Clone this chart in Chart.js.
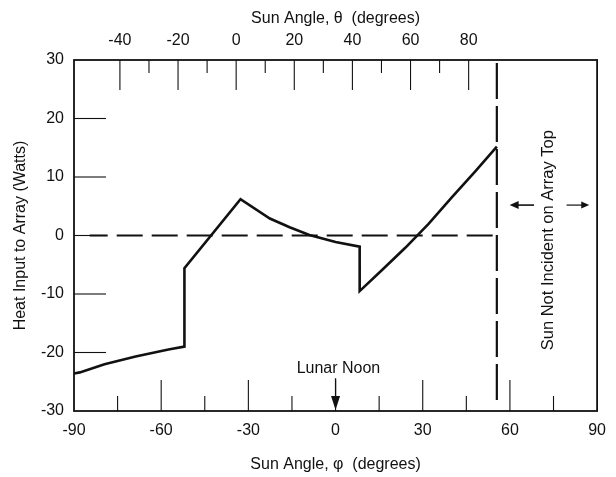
<!DOCTYPE html>
<html>
<head>
<meta charset="utf-8">
<script src="https://cdn.jsdelivr.net/npm/chart.js@4.4.1/dist/chart.umd.min.js"></script>
<style>
html,body{margin:0;padding:0;background:#fff;}
#wrap{width:616px;height:477px;}
</style>
</head>
<body>
<div id="wrap"><canvas id="c" width="616" height="477"></canvas></div>
<script>
// ---- data ----
const phiCurve  = [-90, -88, -79.5, -68.8, -57.5, -52.0, -52.0, -32.7, -22.6, -15.8, -9.0, 0.0, 8.3, 8.3, 16, 24, 32, 40, 48, 55.5];
const heatCurve = [-23.6, -23.4, -22.0, -20.7, -19.5, -19.0, -5.6, 6.2, 2.9, 1.4, 0.1, -1.1, -1.9, -9.5, -5.9, -2.1, 2.0, 6.5, 10.9, 15.2];
const zeroLinePhi = [-84.6, 55.5];
const zeroLineHeat = [0, 0];
const limitPhi = [55.5, 55.5];
const limitHeat = [30, -28.5];

const phiLabels = [-90, -60, -30, 0, 30, 60, 90];
const phiMinor = [-75, -45, -15, 15, 45, 75];
const phiMajor = [-60, -30, 0, 30, 60];
const thetaLabels = [-40, -20, 0, 20, 40, 60, 80];
const thetaMinor = [-30, -10, 10, 30, 50, 70];
const thetaMin = -55.8, thetaMax = 124.2;
const heatLabels = [-30, -20, -10, 0, 10, 20, 30];
const heatTicks = [-20, -10, 0, 10, 20];

const INK = '#111';
const FONT = "'Liberation Sans', Arial, Helvetica, sans-serif";

const pts = (xs, ys) => xs.map((x, i) => ({x: x, y: ys[i]}));

const decor = {
  id: 'decor',
  afterDatasetsDraw(chart) {
    const {ctx, chartArea: a, scales} = chart;
    const xs = scales.x, xt = scales.x2, ys = scales.y;
    ctx.save();
    ctx.strokeStyle = INK;
    ctx.fillStyle = INK;
    // frame
    ctx.lineWidth = 1.8;
    ctx.strokeRect(a.left, a.top, a.right - a.left, a.bottom - a.top);
    // inward ticks
    ctx.lineWidth = 1.1;
    const seg = (x1, y1, x2, y2) => { ctx.beginPath(); ctx.moveTo(x1, y1); ctx.lineTo(x2, y2); ctx.stroke(); };
    phiMajor.forEach(p => { const X = xs.getPixelForValue(p); seg(X, a.bottom, X, a.bottom - 31); });
    phiMinor.forEach(p => { const X = xs.getPixelForValue(p); seg(X, a.bottom, X, a.bottom - 15); });
    thetaLabels.forEach(t => { const X = xt.getPixelForValue(t); seg(X, a.top, X, a.top + 30); });
    thetaMinor.forEach(t => { const X = xt.getPixelForValue(t); seg(X, a.top, X, a.top + 13); });
    heatTicks.forEach(h => { const Y = ys.getPixelForValue(h); seg(a.left, Y, a.left + 32, Y); });

    // Lunar Noon annotation
    ctx.font = '16px ' + FONT;
    ctx.textAlign = 'center';
    ctx.textBaseline = 'middle';
    ctx.fillText('Lunar Noon', xs.getPixelForValue(1.0), ys.getPixelForValue(-22.8));
    const nx = xs.getPixelForValue(0);
    const ny1 = ys.getPixelForValue(-24.4), ny2 = ys.getPixelForValue(-30);
    ctx.lineWidth = 1.3;
    seg(nx, ny1, nx, ny2 - 6);
    ctx.beginPath();
    ctx.moveTo(nx - 4.5, ny2 - 15);
    ctx.lineTo(nx + 4.5, ny2 - 15);
    ctx.lineTo(nx, ny2 - 1);
    ctx.closePath();
    ctx.fill();

    // Sun Not Incident annotation
    const tx = xs.getPixelForValue(73.1), ty = ys.getPixelForValue(-0.8);
    ctx.save();
    ctx.translate(tx, ty);
    ctx.rotate(-Math.PI / 2);
    ctx.font = '16.5px ' + FONT;
    ctx.fillText('Sun Not Incident on Array Top', 0, 0);
    ctx.restore();

    // arrows
    const ay = ys.getPixelForValue(5.2);
    const l1 = xs.getPixelForValue(68.3), l0 = xs.getPixelForValue(59.9);
    const r0 = xs.getPixelForValue(79.5), r1 = xs.getPixelForValue(87.3);
    ctx.lineWidth = 1.6;
    seg(l1, ay, l0 + 6, ay);
    ctx.beginPath(); ctx.moveTo(l0, ay); ctx.lineTo(l0 + 9, ay - 4); ctx.lineTo(l0 + 9, ay + 4); ctx.closePath(); ctx.fill();
    ctx.lineWidth = 1.2;
    seg(r0, ay, r1 - 5, ay);
    ctx.beginPath(); ctx.moveTo(r1, ay); ctx.lineTo(r1 - 8, ay - 3.5); ctx.lineTo(r1 - 8, ay + 3.5); ctx.closePath(); ctx.fill();
    ctx.restore();
  }
};

const tickFont = {family: FONT, size: 16};

new Chart(document.getElementById('c'), {
  type: 'scatter',
  data: {
    datasets: [
      {data: pts(phiCurve, heatCurve), showLine: true, borderColor: INK, borderWidth: 2.6, pointRadius: 0, tension: 0, xAxisID: 'x', yAxisID: 'y'},
      {data: pts(zeroLinePhi, zeroLineHeat), showLine: true, borderColor: INK, borderWidth: 2, borderDash: [26, 9], borderDashOffset: 8, pointRadius: 0, xAxisID: 'x', yAxisID: 'y'},
      {data: pts(limitPhi, limitHeat), showLine: true, borderColor: INK, borderWidth: 2.2, borderDash: [36, 7], borderDashOffset: -3, pointRadius: 0, xAxisID: 'x', yAxisID: 'y'}
    ]
  },
  options: {
    responsive: false,
    animation: false,
    events: [],
    layout: {padding: {left: 0, right: 10, top: 0, bottom: 0}},
    plugins: {legend: {display: false}, tooltip: {enabled: false}},
    scales: {
      x: {
        type: 'linear', position: 'bottom', min: -90, max: 90,
        afterBuildTicks: s => { s.ticks = phiLabels.map(v => ({value: v})); },
        afterFit: s => { s.height = 66; },
        grid: {display: false, drawTicks: false}, border: {display: false},
        ticks: {font: tickFont, color: INK, padding: 10, maxRotation: 0, autoSkip: false},
        title: {display: true, text: 'Sun Angle, φ  (degrees)', font: tickFont, color: INK, padding: {top: 0, bottom: 3}}
      },
      x2: {
        type: 'linear', position: 'top', min: thetaMin, max: thetaMax,
        afterBuildTicks: s => { s.ticks = thetaLabels.map(v => ({value: v})); },
        afterFit: s => { s.height = 60; },
        grid: {display: false, drawTicks: false}, border: {display: false},
        ticks: {font: tickFont, color: INK, padding: 10, maxRotation: 0, autoSkip: false},
        title: {display: true, text: 'Sun Angle, θ  (degrees)', font: tickFont, color: INK, padding: {top: 9, bottom: 0}}
      },
      y: {
        type: 'linear', position: 'left', min: -30, max: 30,
        afterBuildTicks: s => { s.ticks = heatLabels.map(v => ({value: v})); },
        afterFit: s => { s.width = 74; },
        grid: {display: false, drawTicks: false}, border: {display: false},
        ticks: {font: tickFont, color: INK, padding: 10, autoSkip: false},
        title: {display: true, text: 'Heat Input to Array (Watts)', font: tickFont, color: INK, padding: {top: 11, bottom: 0}}
      }
    }
  },
  plugins: [decor]
});
</script>
</body>
</html>
